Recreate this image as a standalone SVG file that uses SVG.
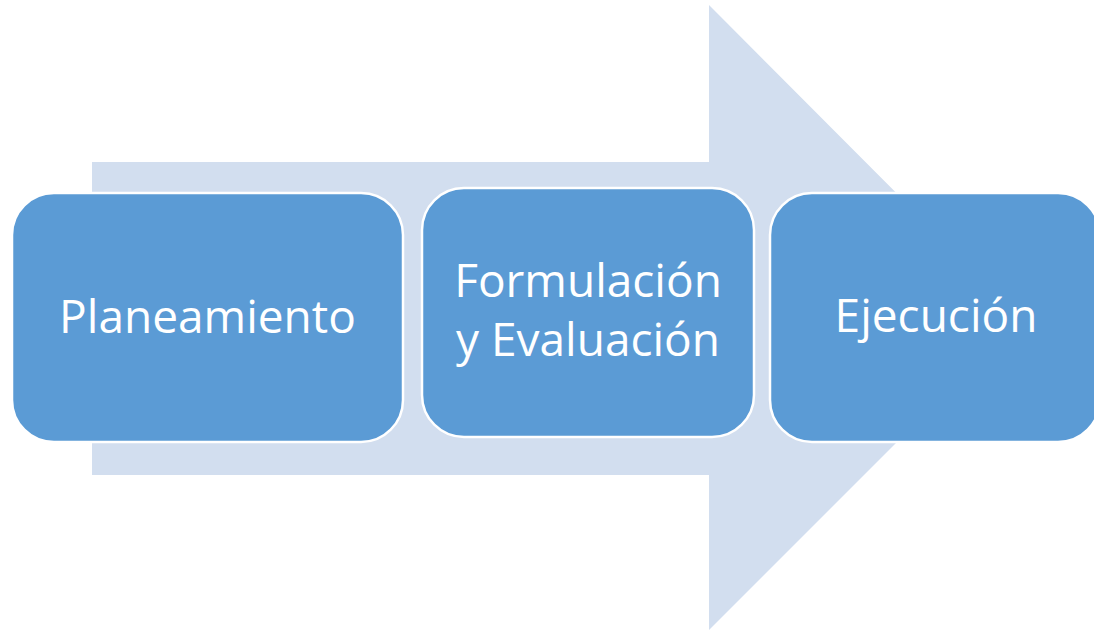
<svg xmlns="http://www.w3.org/2000/svg" width="1094" height="632" viewBox="0 0 1094 632">
<style>
.box{fill:#5B9BD5;stroke:#FFFFFF;stroke-width:2.5}
.lbl{font-family:"Open Sans","Liberation Sans",sans-serif;font-size:46px;fill:#FFFFFF;text-anchor:middle}
</style>
<rect width="1094" height="632" fill="#FFFFFF"/>
<g id="arrow">
<polygon points="92,162 709,162 709,5 1021,318 709,630 709,475 92,475" fill="#D2DEEF"/>
</g>
<g id="connectors"></g>
<g id="node-planeamiento">
<rect class="box" x="12" y="193" width="391" height="249" rx="42" ry="42"/>
<text class="lbl" x="207.5" y="333">Planeamiento</text>
</g>
<g id="node-formulacion">
<rect class="box" x="422" y="188" width="332" height="249" rx="42" ry="42"/>
<text class="lbl" x="588" y="297">Formulación</text>
<text class="lbl" x="588" y="356">y Evaluación</text>
</g>
<g id="node-ejecucion">
<rect class="box" x="770" y="193" width="330" height="249" rx="42" ry="42"/>
<text class="lbl" x="936" y="332">Ejecución</text>
</g>
</svg>
